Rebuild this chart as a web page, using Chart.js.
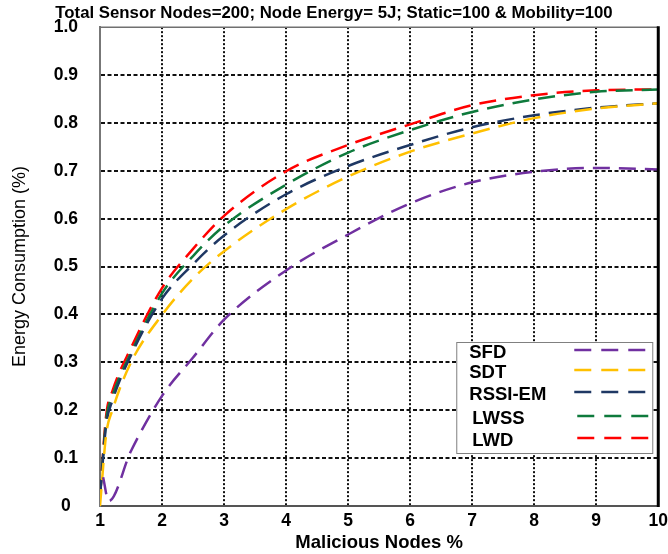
<!DOCTYPE html>
<html>
<head>
<meta charset="utf-8">
<script src="https://cdn.jsdelivr.net/npm/chart.js@4/dist/chart.umd.min.js"></script>
<style>
    html, body {
        margin: 0;
        padding: 0;
        background: #ffffff;
    }
    #wrap {
        position: relative;
        width: 668px;
        height: 554px;
    }
</style>
</head>
<body>
<div id="wrap"><canvas id="plot" width="668" height="554"></canvas></div>
<script>
// malicious node share (x) and energy consumption per scheme (y)
const malicious = [1, 1.1, 1.2, 1.5, 2, 2.5, 3, 4, 5, 6, 7, 8, 9, 10];
const sfdX = [1.05, 1.14, 1.5, 2, 2.5, 3, 4, 5, 6, 7, 8, 9, 10];

const sfd = [0.06, 0.01, 0.115, 0.23, 0.31, 0.389, 0.492, 0.567, 0.632, 0.676, 0.698, 0.706, 0.703];
const sdt = [0.0, 0.15, 0.2, 0.3, 0.399, 0.475, 0.532, 0.62, 0.688, 0.74, 0.778, 0.81, 0.83, 0.841];
const rssiEm = [0.02, 0.17, 0.22, 0.315, 0.433, 0.505, 0.565, 0.651, 0.71, 0.754, 0.791, 0.816, 0.832, 0.841];
const lwss = [0.02, 0.18, 0.23, 0.32, 0.444, 0.522, 0.585, 0.671, 0.738, 0.785, 0.823, 0.849, 0.865, 0.87];
const lwd = [0.02, 0.19, 0.24, 0.33, 0.455, 0.537, 0.606, 0.699, 0.754, 0.797, 0.837, 0.858, 0.868, 0.87];

const xTicks = [1, 2, 3, 4, 5, 6, 7, 8, 9, 10];
const yTicks = ["0", "0.1", "0.2", "0.3", "0.4", "0.5", "0.6", "0.7", "0.8", "0.9", "1.0"];

const titleText = "Total Sensor Nodes=200; Node Energy= 5J; Static=100 & Mobility=100";
const FONT = "Arial, 'Liberation Sans', sans-serif";
const DASH = [17, 9];

const pairs = (xs, ys) => xs.map((x, i) => ({x: x, y: ys[i]}));

const series = [
    {label: "SFD", color: "#7030a0", x: sfdX, y: sfd},
    {label: "SDT", color: "#ffc000", x: malicious, y: sdt},
    {label: "RSSI-EM", color: "#1f3864", x: malicious, y: rssiEm},
    {label: "LWSS", color: "#0e7a3c", x: malicious, y: lwss},
    {label: "LWD", color: "#ff0000", x: malicious, y: lwd},
];

// top and right frame of the plot box
const frame = {
    id: 'plotFrame',
    afterDatasetsDraw: (chart) => {
        const {ctx, chartArea: a} = chart;
        ctx.save();
        ctx.lineCap = 'butt';
        ctx.strokeStyle = '#707070';
        ctx.lineWidth = 1.5;
        ctx.beginPath();
        ctx.moveTo(a.left, a.top);
        ctx.lineTo(a.right, a.top);
        ctx.stroke();
        ctx.strokeStyle = '#000000';
        ctx.lineWidth = 3;
        ctx.beginPath();
        ctx.moveTo(a.right, a.top - 1);
        ctx.lineTo(a.right, a.bottom + 1);
        ctx.stroke();
        ctx.restore();
    }
};

// boxed legend in the lower right of the plot
const boxLegend = {
    id: 'boxLegend',
    afterDraw: (chart) => {
        const {ctx, chartArea: a} = chart;
        const w = 196, h = 111;
        const left = a.right - 6 - w;
        const top = a.bottom - 53 - h;
        ctx.save();
        ctx.fillStyle = '#ffffff';
        ctx.fillRect(left, top, w, h);
        ctx.strokeStyle = '#808080';
        ctx.lineWidth = 1;
        ctx.strokeRect(left + 0.5, top + 0.5, w, h);
        const rows = [11, 31, 53, 77, 99];
        const shift = [0, 0, 0, 3, 3];
        ctx.font = "bold 18.5px " + FONT;
        ctx.textBaseline = 'middle';
        ctx.fillStyle = '#000000';
        chart.data.datasets.forEach((ds, i) => {
            const y = top + rows[i];
            ctx.fillText(ds.label, left + 13 + shift[i], y);
            ctx.strokeStyle = ds.borderColor;
            ctx.lineWidth = 2.5;
            ctx.setLineDash([17, 10]);
            ctx.beginPath();
            ctx.moveTo(left + 118 + shift[i], y - 3);
            ctx.lineTo(left + 190 + shift[i], y - 3);
            ctx.stroke();
        });
        ctx.restore();
    }
};

const edgeHidden = (ctx, lo, hi) =>
    (ctx.tick && (ctx.tick.value === lo || ctx.tick.value === hi)) ? 'rgba(0,0,0,0)' : '#111111';

const config = {
    type: 'line',
    data: {
        datasets: series.map((s) => ({
            label: s.label,
            data: pairs(s.x, s.y),
            borderColor: s.color,
            backgroundColor: s.color,
            borderWidth: 2.5,
            borderDash: DASH,
            pointRadius: 0,
            fill: false,
            tension: 0.4,
            cubicInterpolationMode: 'monotone',
        }))
    },
    options: {
        responsive: false,
        animation: false,
        events: [],
        layout: {
            padding: {left: 0, right: 0, top: 0, bottom: 0}
        },
        plugins: {
            legend: {display: false},
            tooltip: {enabled: false},
            title: {
                display: true,
                text: titleText,
                color: '#000000',
                font: {family: FONT, size: 16.8, weight: 'bold', lineHeight: 1.2},
                padding: {top: 3, bottom: 4},
            },
        },
        scales: {
            x: {
                type: 'linear',
                min: 1,
                max: 10,
                afterBuildTicks: (scale) => {
                    scale.ticks = xTicks.map((v) => ({value: v}));
                },
                afterFit: (scale) => {
                    scale.height = 48;
                },
                ticks: {
                    color: '#000000',
                    padding: 0,
                    maxRotation: 0,
                    font: {family: FONT, size: 17.5, weight: 'bold'},
                    callback: (v) => String(v),
                },
                grid: {
                    drawTicks: true,
                    tickLength: 5,
                    tickColor: 'rgba(0,0,0,0)',
                    lineWidth: 2,
                    color: (ctx) => edgeHidden(ctx, 1, 10),
                },
                border: {display: true, color: '#555555', width: 2, dash: [2, 2]},
                title: {
                    display: true,
                    text: 'Malicious Nodes %',
                    color: '#000000',
                    font: {family: FONT, size: 18.5, weight: 'bold', lineHeight: 1.2},
                    padding: {top: 0, bottom: 0},
                },
            },
            y: {
                type: 'linear',
                min: 0,
                max: 1,
                afterBuildTicks: (scale) => {
                    scale.ticks = yTicks.map((t) => ({value: parseFloat(t)}));
                },
                afterFit: (scale) => {
                    scale.width = 100;
                },
                ticks: {
                    color: '#000000',
                    padding: 0,
                    crossAlign: 'center',
                    font: {family: FONT, size: 17.5, weight: 'bold'},
                    callback: (v, i) => yTicks[i],
                },
                grid: {
                    drawTicks: true,
                    tickLength: 22,
                    tickColor: 'rgba(0,0,0,0)',
                    lineWidth: 2,
                    color: (ctx) => edgeHidden(ctx, 0, 1),
                },
                border: {display: true, color: '#777777', width: 2, dash: [4, 2.5]},
                title: {
                    display: true,
                    text: 'Energy Consumption (%)',
                    color: '#000000',
                    font: {family: FONT, size: 18, weight: 'normal', lineHeight: 1.2},
                    padding: {top: 9, bottom: 0},
                },
            },
        },
    },
    plugins: [frame, boxLegend],
};

new Chart(document.getElementById('plot'), config);
</script>
</body>
</html>
